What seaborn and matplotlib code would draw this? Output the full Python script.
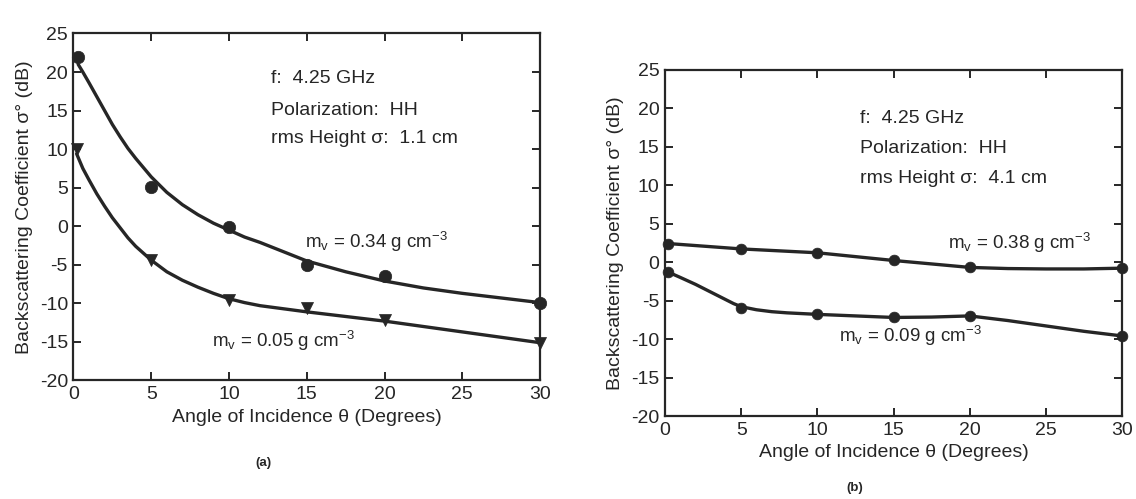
import matplotlib
matplotlib.use("Agg")
import matplotlib.pyplot as plt
import seaborn as sns

# ---------------- data ----------------
# Panel (a): rms height 1.1 cm
a_hi_pts_x = [0.3, 5.0, 10.0, 15.0, 20.0, 30.0]
a_hi_pts_y = [22.0, 5.1, -0.1, -5.0, -6.4, -9.9]
a_hi_curve_x = [0.3, 0.6, 1, 1.5, 2, 2.5, 3, 3.5, 4, 4.5, 5, 6, 7, 8, 9, 10,
                11, 12, 13.5, 15, 17.5, 20, 22.5, 25, 27.5, 30]
a_hi_curve_y = [21.0, 20.0, 18.6, 16.8, 15.0, 13.2, 11.6, 10.1, 8.8, 7.6, 6.4,
                4.4, 2.8, 1.5, 0.4, -0.5, -1.4, -2.1, -3.3, -4.5, -5.9, -7.1,
                -8.0, -8.7, -9.3, -9.9]

a_lo_pts_x = [0.2, 5.0, 10.0, 15.0, 20.0, 30.0]
a_lo_pts_y = [10.0, -4.4, -9.6, -10.6, -12.1, -15.1]
a_lo_curve_x = [0.2, 0.6, 1, 1.5, 2, 2.5, 3, 3.5, 4, 4.5, 5, 6, 7, 8, 9, 10,
                11, 12, 13.5, 15, 17.5, 20, 22.5, 25, 27.5, 30]
a_lo_curve_y = [9.4, 7.5, 6.0, 4.2, 2.6, 1.1, -0.2, -1.5, -2.6, -3.5, -4.4,
                -5.9, -7.0, -7.9, -8.7, -9.4, -9.9, -10.3, -10.7, -11.1, -11.7,
                -12.3, -13.0, -13.7, -14.4, -15.1]

# Panel (b): rms height 4.1 cm
b_hi_pts_x = [0.2, 5.0, 10.0, 15.0, 20.0, 30.0]
b_hi_pts_y = [2.4, 1.7, 1.2, 0.2, -0.7, -0.8]
b_hi_curve_x = [0.2, 5, 10, 15, 20, 22.5, 25, 27.5, 30]
b_hi_curve_y = [2.4, 1.7, 1.2, 0.2, -0.7, -0.85, -0.9, -0.9, -0.8]

b_lo_pts_x = [0.2, 5.0, 10.0, 15.0, 20.0, 30.0]
b_lo_pts_y = [-1.3, -6.0, -6.8, -7.2, -7.0, -9.6]
b_lo_curve_x = [0.2, 1, 2, 3, 4, 4.5, 5, 6, 7, 8, 10, 12.5, 15, 17.5, 20,
                22.5, 25, 27.5, 30]
b_lo_curve_y = [-1.3, -2.0, -2.9, -3.9, -4.9, -5.4, -5.8, -6.2, -6.45, -6.6,
                -6.8, -7.0, -7.2, -7.15, -7.0, -7.6, -8.3, -9.0, -9.6]

x_ticks = [0, 5, 10, 15, 20, 25, 30]
y_ticks = [-20, -15, -10, -5, 0, 5, 10, 15, 20, 25]

info_a = ["f:  4.25 GHz", "Polarization:  HH", "rms Height \u03c3:  1.1 cm"]
info_b = ["f:  4.25 GHz", "Polarization:  HH", "rms Height \u03c3:  4.1 cm"]
label_a_hi = r"m$_v$ = 0.34 g cm$^{-3}$"
label_a_lo = r"m$_v$ = 0.05 g cm$^{-3}$"
label_b_hi = r"m$_v$ = 0.38 g cm$^{-3}$"
label_b_lo = r"m$_v$ = 0.09 g cm$^{-3}$"
xlabel = "Angle of Incidence \u03b8 (Degrees)"
ylabel = "Backscattering Coefficient \u03c3\u00b0 (dB)"

# ---------------- style ----------------
sns.set_theme(style="ticks")
FONT = ["Liberation Sans Narrow", "Liberation Sans", "DejaVu Sans"]
plt.rcParams["font.family"] = FONT
plt.rcParams["mathtext.fontset"] = "custom"
plt.rcParams["mathtext.rm"] = "Liberation Sans"
plt.rcParams["mathtext.it"] = "Liberation Sans"
plt.rcParams["mathtext.bf"] = "Liberation Sans:bold"

INK = "#262626"
TXT = "#262626"

fig = plt.figure(figsize=(11.36, 4.99), dpi=100)
fig.patch.set_facecolor("white")
ax_a = fig.add_axes([0.0647, 0.2375, 0.4107, 0.6954])
ax_b = fig.add_axes([0.5854, 0.1663, 0.4023, 0.6944])


def style_axes(ax):
    ax.set_xlim(0, 30)
    ax.set_ylim(-20, 25)
    ax.set_xticks(x_ticks)
    ax.set_yticks(y_ticks)
    ax.set_xticklabels([str(v) for v in x_ticks])
    ax.set_yticklabels([str(v) for v in y_ticks])
    for s in ax.spines.values():
        s.set_visible(True)
        s.set_linewidth(1.6)
        s.set_color(INK)
    ax.tick_params(direction="in", length=6, width=1.4, color=INK,
                   top=True, right=True, labelsize=14, labelcolor=TXT, pad=4)
    ax.set_xlabel(xlabel, fontsize=14, color=TXT, labelpad=4)
    ax.set_ylabel(ylabel, fontsize=14, color=TXT, labelpad=5)
    ax.set_facecolor("white")
    ax.grid(False)


def draw(ax, cx, cy, px, py, marker, ms):
    sns.lineplot(x=cx, y=cy, ax=ax, color=INK, linewidth=2.4, sort=False,
                 legend=False, estimator=None)
    sns.scatterplot(x=px, y=py, ax=ax, color=INK, marker=marker, s=ms,
                    edgecolor=INK, linewidth=0.5, legend=False, clip_on=False,
                    zorder=5)


# Panel (a)
style_axes(ax_a)
draw(ax_a, a_hi_curve_x, a_hi_curve_y, a_hi_pts_x, a_hi_pts_y, "o", 80)
draw(ax_a, a_lo_curve_x, a_lo_curve_y, a_lo_pts_x, a_lo_pts_y, "v", 75)
for i, t in enumerate(info_a):
    ax_a.text(12.7, [19.2, 15.0, 11.4][i], t, fontsize=14, color=TXT,
              ha="left", va="center")
ax_a.text(19.5, -2.0, label_a_hi, fontsize=13.5, color=TXT, ha="center", va="center")
ax_a.text(13.5, -14.9, label_a_lo, fontsize=13.5, color=TXT, ha="center", va="center")
fig.text(263 / 1136, 1 - 463 / 499, "(a)", fontsize=9.5, fontweight="bold",
         color=TXT, ha="center", va="center")

# Panel (b)
style_axes(ax_b)
draw(ax_b, b_hi_curve_x, b_hi_curve_y, b_hi_pts_x, b_hi_pts_y, "o", 60)
draw(ax_b, b_lo_curve_x, b_lo_curve_y, b_lo_pts_x, b_lo_pts_y, "o", 60)
for i, t in enumerate(info_b):
    ax_b.text(12.8, [18.7, 14.7, 10.8][i], t, fontsize=14, color=TXT,
              ha="left", va="center")
ax_b.text(23.3, 2.5, label_b_hi, fontsize=13.5, color=TXT, ha="center", va="center")
ax_b.text(16.1, -9.6, label_b_lo, fontsize=13.5, color=TXT, ha="center", va="center")
fig.text(855 / 1136, 1 - 488 / 499, "(b)", fontsize=9.5, fontweight="bold",
         color=TXT, ha="center", va="center")

fig.savefig("out.png", dpi=100, facecolor="white")
